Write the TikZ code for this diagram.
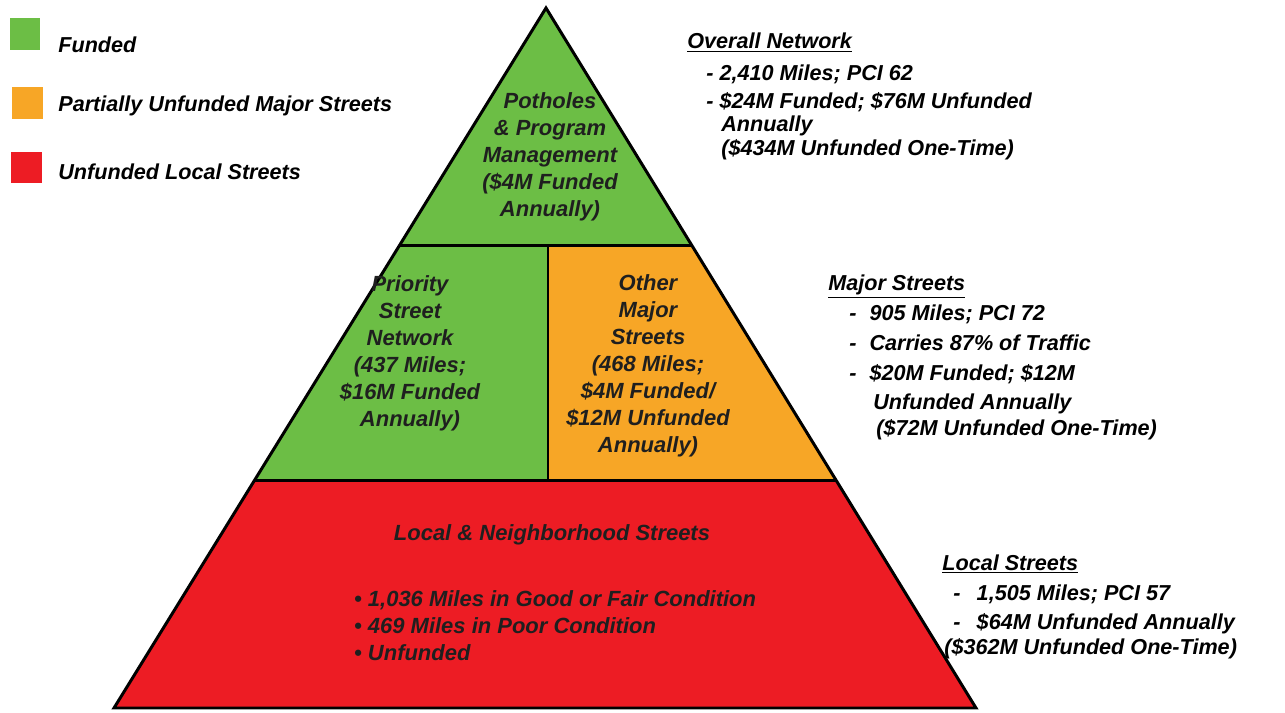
\documentclass[tikz,border=0pt]{standalone}
\usepackage{fontspec}
\setmainfont{Liberation Sans}
\usetikzlibrary{calc}

\definecolor{fundgreen}{RGB}{108,190,69}
\definecolor{partorange}{RGB}{247,166,38}
\definecolor{unfred}{RGB}{237,28,36}

\tikzset{
  legtext/.style={anchor=base west, inner xsep=0pt, font=\fontsize{12.3}{14}\selectfont\bfseries\itshape},
  blocktext/.style={align=center, text=black!88, font=\fontsize{12.5}{15.4}\selectfont\bfseries\itshape},
  sidetext/.style={anchor=base west, inner xsep=0pt, font=\fontsize{12.3}{14}\selectfont\bfseries\itshape},
  tier/.style={draw=black, line width=1.7pt, line join=miter},
}

\begin{document}
\begin{tikzpicture}[x=0.02cm, y=-0.02cm]
    % 画布
    \useasboundingbox (0,0) rectangle (1285,713);
    \fill[white] (0,0) rectangle (1285,713);

    % 图例
    \fill[fundgreen] (10,18) rectangle (40,50);
    \fill[partorange] (12,87) rectangle (43,119);
    \fill[unfred] (11,152) rectangle (42,183);
    \node[legtext] (legfund) at (58,53) {Funded};
    \node[legtext] (legpart) at (58,112) {Partially Unfunded Major Streets};
    \node[legtext] (legunf) at (58,179) {Unfunded Local Streets};

    % 金字塔角点
    \coordinate (apex) at (546,8);
    \coordinate (bl) at (114,708);
    \coordinate (br) at (976,708);
    \coordinate (l1) at ($(apex)!0.3386!(bl)$);
    \coordinate (r1) at ($(apex)!0.3386!(br)$);
    \coordinate (l2) at ($(apex)!0.6743!(bl)$);
    \coordinate (r2) at ($(apex)!0.6743!(br)$);
    \coordinate (m1) at (548,245);
    \coordinate (m2) at (548,480);

    % 各层填充
    \fill[fundgreen] (apex) -- (l1) -- (r1) -- cycle;
    \fill[fundgreen] (l1) -- (l2) -- (m2) -- (m1) -- cycle;
    \fill[partorange] (m1) -- (m2) -- (r2) -- (r1) -- cycle;
    \fill[unfred] (l2) -- (bl) -- (br) -- (r2) -- cycle;

    % 轮廓与分隔线
    \draw[tier] (apex) -- (bl) -- (br) -- cycle;
    \draw[tier] (l1) -- (r1);
    \draw[tier] (l2) -- (r2);
    \draw[tier] (m1) -- (m2);

    % 层内文字
    \node[blocktext] (pothole) at (550,157) {Potholes\\ \& Program\\ Management\\ (\$4M Funded\\ Annually)};
    \node[blocktext] (priority) at (410,353) {Priority\\ Street\\ Network\\ (437 Miles;\\ \$16M Funded\\ Annually)};
    \node[blocktext] (othermaj) at (648,366) {Other\\ Major\\ Streets\\ (468 Miles;\\ \$4M Funded/\\ \$12M Unfunded\\ Annually)};
    \node[blocktext] (localttl) at (552,535) {Local \& Neighborhood Streets};
    \node[blocktext, align=left, anchor=west] (localpts) at (348,626)
        {\textbullet\ 1,036 Miles in Good or Fair Condition\\
         \textbullet\ 469 Miles in Poor Condition\\
         \textbullet\ Unfunded};

    % 右侧说明：全网
    \node[sidetext] (ovttl) at (687,49) {\underline{Overall Network}};
    \node[sidetext] (ov1) at (706,81) {- 2,410 Miles; PCI 62};
    \node[sidetext] (ov2) at (706,109) {- \$24M Funded; \$76M Unfunded};
    \node[sidetext] (ov3) at (721,132) {Annually};
    \node[sidetext] (ov4) at (721,155) {(\$434M Unfunded One-Time)};

    % 右侧说明：主干道
    \node[sidetext] (majttl) at (828,290) {\underline{Major Streets}};
    \node[sidetext] (maj1) at (849,320) {-\hspace{0.6em}905 Miles; PCI 72};
    \node[sidetext] (maj2) at (849,350) {-\hspace{0.6em}Carries 87\% of Traffic};
    \node[sidetext] (maj3) at (849,380) {-\hspace{0.6em}\$20M Funded; \$12M};
    \node[sidetext] (maj4) at (873,409) {Unfunded Annually};
    \node[sidetext] (maj5) at (876,435) {(\$72M Unfunded One-Time)};

    % 右侧说明：地方道路
    \node[sidetext] (locttl) at (942,570) {\underline{Local Streets}};
    \node[sidetext] (loc1) at (953,600) {-\hspace{0.75em}1,505 Miles; PCI 57};
    \node[sidetext] (loc2) at (953,629) {-\hspace{0.75em}\$64M Unfunded Annually};
    \node[sidetext] (loc3) at (944,654) {(\$362M Unfunded One-Time)};
\end{tikzpicture}
\end{document}
